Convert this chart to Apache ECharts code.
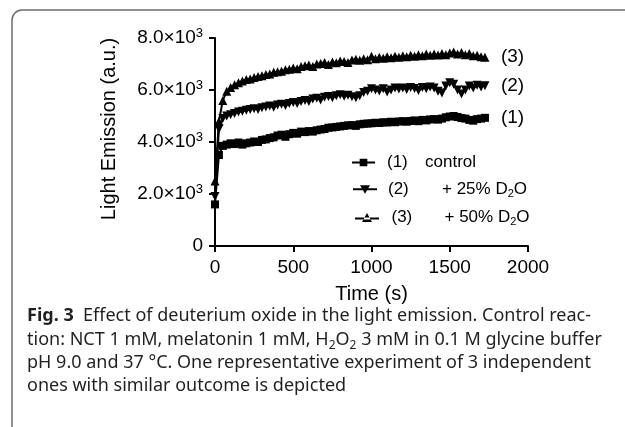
<!DOCTYPE html>
<html>
<head>
<meta charset="utf-8">
<script src="https://cdn.jsdelivr.net/npm/echarts@6/dist/echarts.min.js"></script>
<style>
  html, body { margin: 0; padding: 0; background: #fff; }
  #chart { width: 625px; height: 427px; }
</style>
</head>
<body>
<div id="chart"></div>
<script>
// time points (s)
const times = [
  0, 25, 50, 75, 100, 125, 150, 175, 200, 225,
  250, 275, 300, 325, 350, 375, 400, 425, 450, 475,
  500, 525, 550, 575, 600, 625, 650, 675, 700, 725,
  750, 775, 800, 825, 850, 875, 900, 925, 950, 975,
  1000, 1025, 1050, 1075, 1100, 1125, 1150, 1175, 1200, 1225,
  1250, 1275, 1300, 1325, 1350, 1375, 1400, 1425, 1450, 1475,
  1500, 1525, 1550, 1575, 1600, 1625, 1650, 1675, 1700, 1725
]

// (1) control
const control = [
  1600, 3500, 3850, 3900, 3950, 3920, 3980, 3900, 3950, 3980,
  4020, 4000, 4080, 4100, 4150, 4180, 4250, 4280, 4200, 4300,
  4350, 4320, 4400, 4380, 4420, 4400, 4450, 4480, 4500, 4550,
  4560, 4580, 4600, 4620, 4640, 4650, 4620, 4680, 4700, 4710,
  4720, 4740, 4730, 4760, 4750, 4780, 4760, 4790, 4800, 4780,
  4810, 4830, 4800, 4850, 4830, 4870, 4880, 4860, 4900, 4950,
  4980, 5000, 4960, 4920, 4900, 4850, 4820, 4880, 4900, 4930
]

// (2) + 25% D2O
const d2o25 = [
  1900, 4500, 4900, 5000, 5050, 5100, 5150, 5180, 5220, 5250,
  5280, 5250, 5320, 5350, 5380, 5340, 5420, 5450, 5400, 5480,
  5520, 5480, 5560, 5600, 5560, 5650, 5680, 5620, 5720, 5750,
  5700, 5780, 5820, 5760, 5800, 5740, 5700, 5780, 5900, 5950,
  6050, 6000, 5960, 6050, 5920, 6000, 6080, 6040, 6080, 6020,
  6100, 6060, 5980, 6100, 6050, 6120, 6080, 5950, 5880, 6150,
  6280, 6220, 6000, 5850, 6000, 6150, 6080, 6180, 6120, 6160
]

// (3) + 50% D2O
const d2o50 = [
  2500, 4800, 5600, 5950, 6100, 6200, 6280, 6350, 6400, 6420,
  6480, 6520, 6550, 6600, 6620, 6680, 6700, 6720, 6780, 6800,
  6850, 6820, 6900, 6930, 6960, 6900, 7000, 7020, 7060, 6980,
  7080, 7050, 7120, 7100, 7060, 7150, 7180, 7140, 7200, 7160,
  7300, 7200, 7260, 7220, 7280, 7240, 7300, 7260, 7320, 7280,
  7340, 7300, 7360, 7320, 7380, 7340, 7380, 7350, 7400, 7360,
  7420, 7460, 7380, 7440, 7360, 7400, 7320, 7340, 7280, 7260
]

const yTicks = [0, 2000, 4000, 6000, 8000]
const xTicks = [0, 500, 1000, 1500, 2000]

const FONT = 'Liberation Sans'
const CAP_FONT = 'Noto Sans'
const zip = (ys) => times.map((t, i) => [t, ys[i]])

const capRich = {
  b: { fontFamily: CAP_FONT, fontSize: 18, fontWeight: 'bold', color: '#231f20', lineHeight: 24 },
  t: { fontFamily: CAP_FONT, fontSize: 18, color: '#231f20', lineHeight: 24 },
  s: { fontFamily: CAP_FONT, fontSize: 12, color: '#231f20', verticalAlign: 'bottom', lineHeight: 22 },
}
function capLine(text, y) {
  return {
    type: 'text', left: 27, top: y - 12,
    style: { text, rich: capRich, fontFamily: CAP_FONT, fontSize: 18, fill: '#231f20' },
  }
}

const legRich = (pad, w) => ({
  n: { fontFamily: FONT, fontSize: 17, color: '#000', width: w, padding: [0, 0, 0, pad] },
  l: { fontFamily: FONT, fontSize: 17, color: '#000', lineHeight: 20 },
  s: { fontFamily: FONT, fontSize: 11, color: '#000', verticalAlign: 'bottom', lineHeight: 20 },
})
function legend(name, left, centerY, w, icon, pad, nw, fmt) {
  return {
    data: [name], left, top: centerY - 10, padding: 0,
    itemWidth: w, itemHeight: 9, icon, selectedMode: false,
    formatter: () => fmt,
    textStyle: { rich: legRich(pad, nw) },
  }
}

const chart = echarts.init(document.getElementById('chart'), null, { renderer: 'canvas' })

chart.setOption({
  animation: false,
  backgroundColor: '#fff',
  grid: { left: 215, right: 97, top: 38, bottom: 181, outerBoundsMode: 'none' },
  xAxis: {
    type: 'value', min: 0, max: 2000, interval: 500,
    name: 'Time (s)', nameLocation: 'middle', nameGap: 38,
    nameTextStyle: { fontFamily: FONT, fontSize: 20, color: '#000' },
    axisLine: { lineStyle: { color: '#000', width: 2 } },
    axisTick: { length: 6, lineStyle: { color: '#000', width: 2 } },
    axisLabel: {
      fontFamily: FONT, fontSize: 19, color: '#000', margin: 12,
      formatter: (v) => (xTicks.includes(v) ? String(v) : ''),
    },
    splitLine: { show: false },
  },
  yAxis: {
    type: 'value', min: 0, max: 8000, interval: 2000,
    axisLine: { show: true, lineStyle: { color: '#000', width: 2 } },
    axisTick: { show: true, length: 6, lineStyle: { color: '#000', width: 2 } },
    axisLabel: {
      fontFamily: FONT, fontSize: 19, color: '#000', margin: 12,
      formatter: (v) => {
        if (!yTicks.includes(v)) return ''
        if (v === 0) return '{m|0}'
        return '{m|' + (v / 1000).toFixed(1) + '×10}{sup|3}'
      },
      rich: {
        m: { fontFamily: FONT, fontSize: 19, color: '#000', lineHeight: 22 },
        sup: { fontFamily: FONT, fontSize: 13, color: '#000', verticalAlign: 'top', lineHeight: 22 },
      },
    },
    splitLine: { show: false },
  },
  legend: [
    legend('control', 352, 164, 23,
      'path://M0,3.5H24V5.5H0Z M8,0.5H16V8.5H8Z', 7, 38, '{n|(1)}{l|control}'),
    legend('+ 25% D2O', 353, 191, 24,
      'path://M0,3.5H24V5.5H0Z M7,0.5H17L12,9Z', 6, 54, '{n|(2)}{l|+ 25% D}{s|2}{l|O}'),
    legend('+ 50% D2O', 355, 219, 25,
      'path://M0,4.5H24V6.5H0Z M7,9H17L12,0Z', 7, 53, '{n|(3)}{l|+ 50% D}{s|2}{l|O}'),
  ],
  series: [
    {
      name: 'control', type: 'line', data: zip(control),
      symbol: 'rect', symbolSize: 8, color: '#000',
      lineStyle: { color: '#000', width: 2 },
      endLabel: { show: true, formatter: '(1)', distance: 16, fontFamily: FONT, fontSize: 19, color: '#000' },
    },
    {
      name: '+ 25% D2O', type: 'line', data: zip(d2o25),
      symbol: 'triangle', symbolRotate: 180, symbolSize: 9, color: '#000',
      lineStyle: { color: '#000', width: 2 },
      endLabel: { show: true, formatter: '(2)', distance: 16, fontFamily: FONT, fontSize: 19, color: '#000' },
    },
    {
      name: '+ 50% D2O', type: 'line', data: zip(d2o50),
      symbol: 'triangle', symbolSize: 9, color: '#000',
      lineStyle: { color: '#000', width: 2 },
      endLabel: { show: true, formatter: '(3)', distance: 16, fontFamily: FONT, fontSize: 19, color: '#000' },
    },
  ],
  graphic: [
    {
      type: 'rect', shape: { x: 12, y: 10, width: 720, height: 600, r: 10 },
      style: { fill: 'none', stroke: '#6e6e6e', lineWidth: 1.5 }, silent: true,
    },
    {
      type: 'text', x: 109, y: 129, rotation: Math.PI / 2,
      style: {
        text: 'Light Emission (a.u.)', align: 'center', verticalAlign: 'middle',
        fontFamily: FONT, fontSize: 20, fill: '#000',
      },
    },
    capLine('{b|Fig. 3}{t|  Effect of deuterium oxide in the light emission. Control reac-}', 319),
    capLine('{t|tion: NCT 1 mM, melatonin 1 mM, H}{s|2}{t|O}{s|2}{t| 3 mM in 0.1 M glycine buffer}', 343),
    capLine('{t|pH 9.0 and 37 °C. One representative experiment of 3 independent}', 366),
    capLine('{t|ones with similar outcome is depicted}', 389),
  ],
})
</script>
</body>
</html>
